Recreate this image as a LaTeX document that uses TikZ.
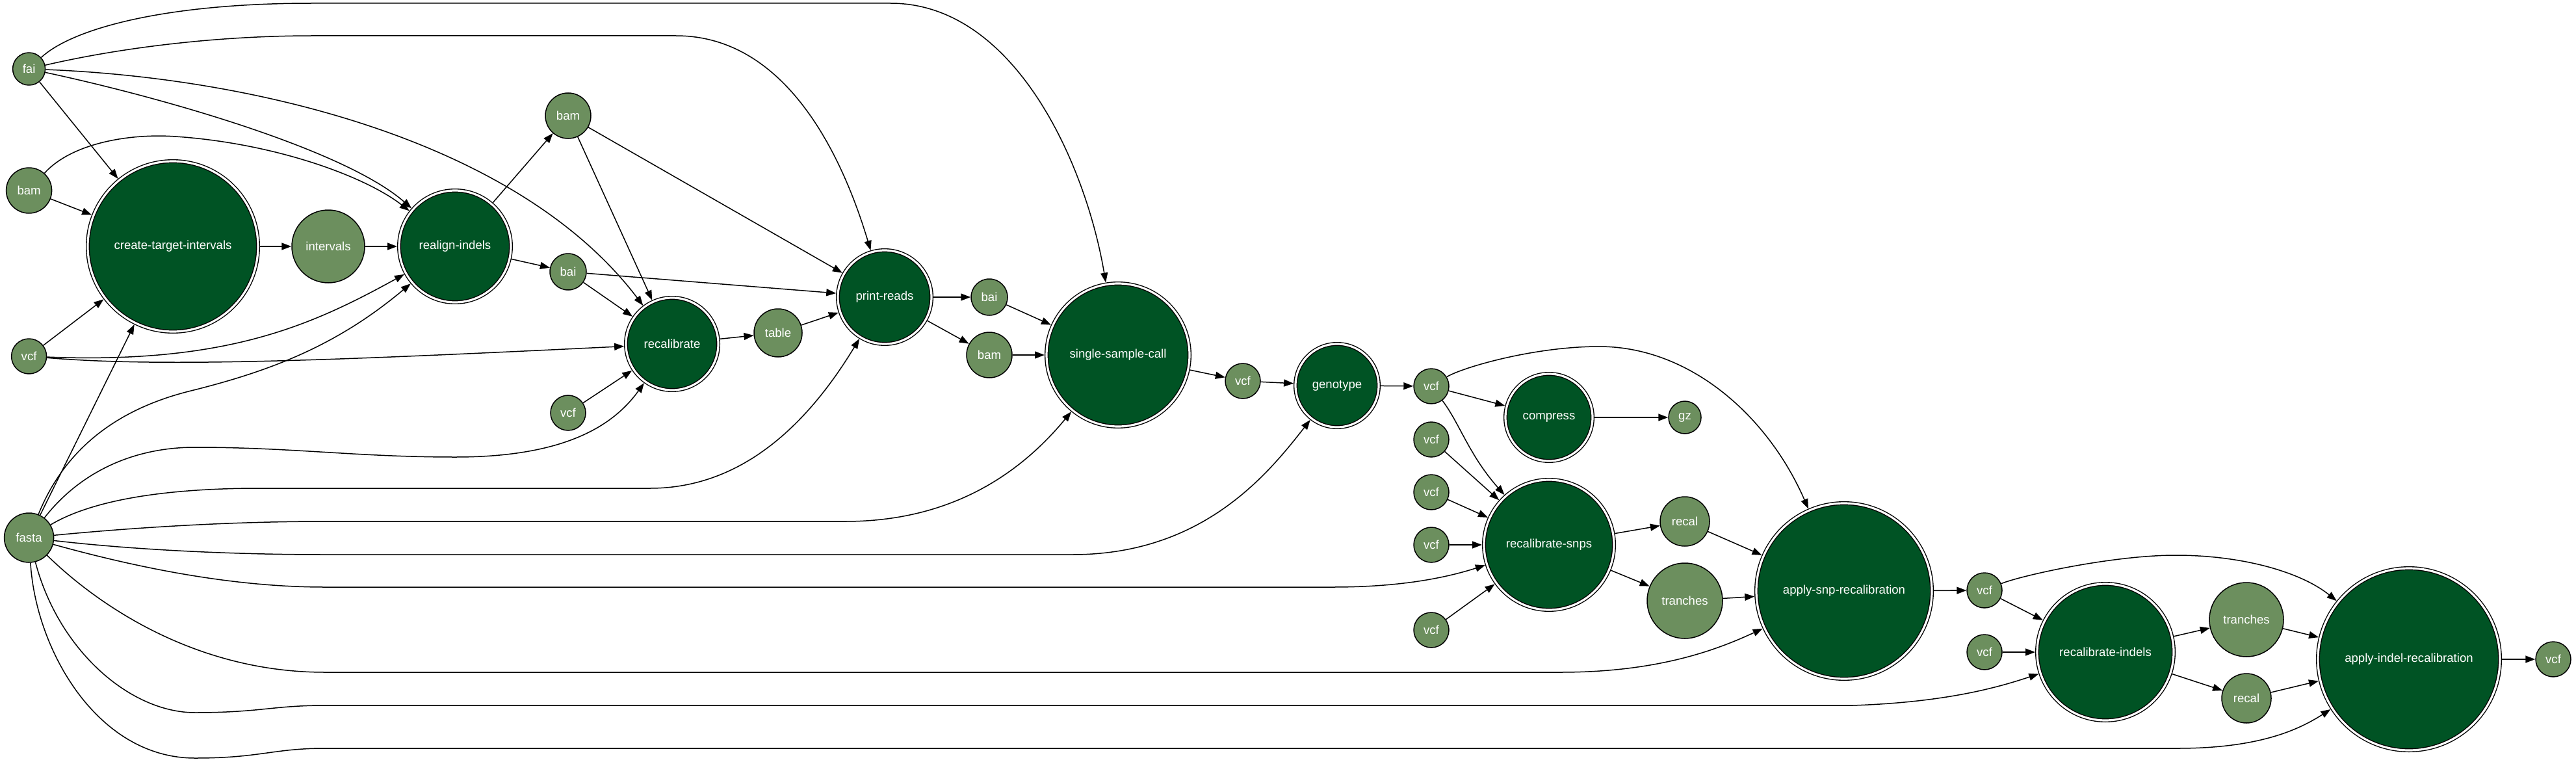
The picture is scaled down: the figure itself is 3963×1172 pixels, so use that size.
\documentclass[tikz,border=0pt]{standalone}
\usepackage{fontspec}
\setmainfont{Liberation Sans}
\usetikzlibrary{arrows.meta}
\definecolor{lightg}{RGB}{108,143,94}
\definecolor{darkg}{RGB}{0,83,36}
\newcommand{\lab}{\fontsize{9.3pt}{11pt}\selectfont}
\tikzset{
  io/.style={circle, draw=black, line width=0.75pt, fill=lightg, text=white, inner sep=0pt, font=\lab},
  proc/.style={circle, draw=black, line width=0.7pt, double=white, double distance=1.6pt, fill=darkg, text=white, inner sep=0pt, outer sep=1.5pt, font=\lab},
  edge/.style={draw=black, line width=0.75pt, -{Triangle[length=7.5pt,width=5.5pt]}},
}
\begin{document}
\begin{tikzpicture}[x=0.5pt, y=-0.5pt]
\useasboundingbox[fill=white] (0,0) rectangle (3963,1172);
% input / output nodes
\node[io, minimum size=25pt] (fai) at (44.6,106) {fai};
\node[io, minimum size=35pt] (bamL) at (44.6,293) {bam};
\node[io, minimum size=27pt] (vcfL) at (44.6,548) {vcf};
\node[io, minimum size=38pt] (fasta) at (44.6,827) {fasta};
\node[io, minimum size=56pt] (intervals) at (505,379) {intervals};
\node[io, minimum size=35pt] (bamT) at (874,178) {bam};
\node[io, minimum size=28pt] (bai1) at (874,418) {bai};
\node[io, minimum size=27pt] (vcfM) at (874,635) {vcf};
\node[io, minimum size=37pt] (table) at (1197,512) {table};
\node[io, minimum size=28pt] (bai2) at (1522,457) {bai};
\node[io, minimum size=35pt] (bam2) at (1522,546) {bam};
\node[io, minimum size=27pt] (vcf6) at (1912,586) {vcf};
\node[io, minimum size=27pt] (vcf7) at (2202,594) {vcf};
\node[io, minimum size=25pt] (gz) at (2592,642) {gz};
\node[io, minimum size=27pt] (vcf8) at (2202,676) {vcf};
\node[io, minimum size=27pt] (vcf9) at (2202,757) {vcf};
\node[io, minimum size=27pt] (vcf10) at (2202,838) {vcf};
\node[io, minimum size=27pt] (vcf11) at (2202,969) {vcf};
\node[io, minimum size=38pt] (recalS) at (2592,802) {recal};
\node[io, minimum size=58pt] (tranS) at (2592,924) {tranches};
\node[io, minimum size=27pt] (vcf12) at (3053,908) {vcf};
\node[io, minimum size=27pt] (vcf13) at (3053,1003) {vcf};
\node[io, minimum size=57pt] (tranI) at (3456,953) {tranches};
\node[io, minimum size=38pt] (recalI) at (3456,1074) {recal};
\node[io, minimum size=27pt] (vcfF) at (3928,1014) {vcf};
% process nodes
\node[proc, minimum size=131pt] (cti) at (266,379) {create-target-intervals};
\node[proc, minimum size=86pt] (realign) at (700,379) {realign-indels};
\node[proc, minimum size=71pt] (recal1) at (1034,529) {recalibrate};
\node[proc, minimum size=72pt] (print) at (1361,457) {print-reads};
\node[proc, minimum size=110pt] (ssc) at (1720,546) {single-sample-call};
\node[proc, minimum size=64pt] (genotype) at (2057,593) {genotype};
\node[proc, minimum size=67pt] (compress) at (2383,642) {compress};
\node[proc, minimum size=100pt] (rsnps) at (2383,838) {recalibrate-snps};
\node[proc, minimum size=135pt] (applysnp) at (2837,909) {apply-snp-recalibration};
\node[proc, minimum size=105pt] (rind) at (3239,1003) {recalibrate-indels};
\node[proc, minimum size=140pt] (applyindel) at (3706,1014) {apply-indel-recalibration};
% straight connectors
\draw[edge] (fai) -- (cti);
\draw[edge] (bamL) -- (cti);
\draw[edge] (vcfL) -- (cti);
\draw[edge] (fasta) -- (cti);
\draw[edge] (cti) -- (intervals);
\draw[edge] (intervals) -- (realign);
\draw[edge] (realign) -- (bamT);
\draw[edge] (realign) -- (bai1);
\draw[edge] (bamT) -- (recal1);
\draw[edge] (bamT) -- (print);
\draw[edge] (bai1) -- (print);
\draw[edge] (bai1) -- (recal1);
\draw[edge] (vcfM) -- (recal1);
\draw[edge] (recal1) -- (table);
\draw[edge] (table) -- (print);
\draw[edge] (print) -- (bai2);
\draw[edge] (print) -- (bam2);
\draw[edge] (bai2) -- (ssc);
\draw[edge] (bam2) -- (ssc);
\draw[edge] (ssc) -- (vcf6);
\draw[edge] (vcf6) -- (genotype);
\draw[edge] (genotype) -- (vcf7);
\draw[edge] (vcf7) -- (compress);
\draw[edge] (compress) -- (gz);
\draw[edge] (vcf8) -- (rsnps);
\draw[edge] (vcf9) -- (rsnps);
\draw[edge] (vcf10) -- (rsnps);
\draw[edge] (vcf11) -- (rsnps);
\draw[edge] (rsnps) -- (recalS);
\draw[edge] (rsnps) -- (tranS);
\draw[edge] (recalS) -- (applysnp);
\draw[edge] (tranS) -- (applysnp);
\draw[edge] (applysnp) -- (vcf12);
\draw[edge] (vcf12) -- (rind);
\draw[edge] (vcf13) -- (rind);
\draw[edge] (rind) -- (tranI);
\draw[edge] (rind) -- (recalI);
\draw[edge] (tranI) -- (applyindel);
\draw[edge] (recalI) -- (applyindel);
\draw[edge] (applyindel) -- (vcfF);
% curved connectors
\draw[edge] (fai) .. controls (110,45) and (250,5) .. (480,5) -- (1370,5) .. controls (1560,5) and (1670,250) .. (ssc);
\draw[edge] (fai) .. controls (200,70) and (350,55) .. (480,55) -- (1040,55) .. controls (1200,55) and (1290,220) .. (print);
\draw[edge] (fai) .. controls (250,150) and (530,230) .. (realign);
\draw[edge] (fai) .. controls (400,120) and (800,220) .. (recal1);
\draw[edge] (bamL) .. controls (110,220) and (200,205) .. (270,210) .. controls (420,220) and (560,270) .. (realign);
\draw[edge] (vcfL) .. controls (350,560) and (480,500) .. (realign);
\draw[edge] (vcfL) .. controls (250,565) and (500,555) .. (recal1);
\draw[edge] (fasta) .. controls (100,690) and (180,630) .. (290,602) .. controls (420,570) and (520,530) .. (realign);
\draw[edge] (fasta) .. controls (120,730) and (200,688) .. (300,688) .. controls (450,688) and (550,703) .. (700,703) .. controls (860,703) and (940,660) .. (recal1);
\draw[edge] (fasta) .. controls (140,770) and (250,751) .. (400,751) -- (1000,751) .. controls (1150,751) and (1250,640) .. (print);
\draw[edge] (fasta) .. controls (200,812) and (350,802) .. (500,802) -- (1300,802) .. controls (1450,802) and (1560,740) .. (ssc);
\draw[edge] (fasta) .. controls (200,845) and (350,853) .. (500,853) -- (1650,853) .. controls (1850,853) and (1950,730) .. (genotype);
\draw[edge] (fasta) .. controls (200,870) and (350,903) .. (500,903) -- (2050,903) .. controls (2150,903) and (2220,890) .. (rsnps);
\draw[edge] (fasta) .. controls (150,930) and (300,1034) .. (500,1034) -- (2400,1034) .. controls (2550,1034) and (2640,1000) .. (applysnp);
\draw[edge] (fasta) .. controls (90,1000) and (200,1096) .. (300,1096) .. controls (400,1096) and (420,1085) .. (500,1085) -- (2850,1085) .. controls (3000,1080) and (3080,1055) .. (rind);
\draw[edge] (fasta) .. controls (55,1000) and (150,1166) .. (300,1166) .. controls (400,1166) and (420,1151) .. (500,1151) -- (3350,1151) .. controls (3480,1151) and (3540,1120) .. (applyindel);
\draw[edge] (vcf7) .. controls (2245,650) and (2260,700) .. (rsnps);
\draw[edge] (vcf7) .. controls (2250,565) and (2360,533) .. (2460,533) .. controls (2600,533) and (2720,640) .. (applysnp);
\draw[edge] (vcf12) .. controls (3110,885) and (3250,854) .. (3347,854) .. controls (3450,854) and (3540,880) .. (applyindel);
\end{tikzpicture}
\end{document}
